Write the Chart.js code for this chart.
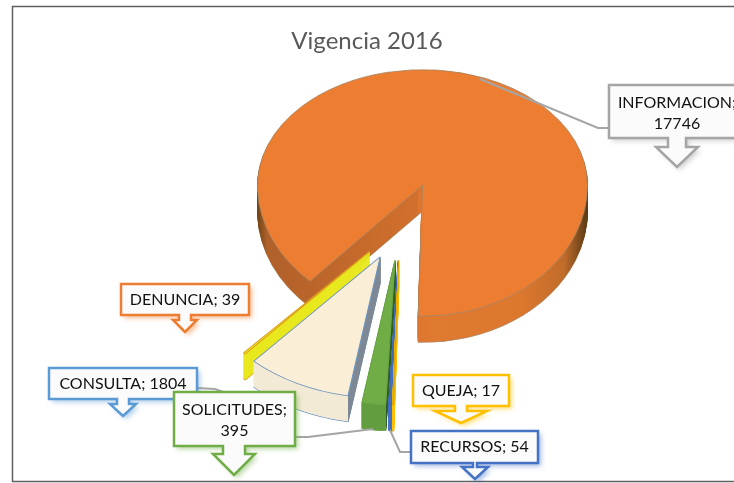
<!DOCTYPE html>
<html>
<head>
<meta charset="utf-8">
<style>
  html, body { margin: 0; padding: 0; background: #fff; overflow: hidden; }
  canvas { display: block; }
</style>
<script src="https://cdn.jsdelivr.net/npm/chart.js@4/dist/chart.umd.min.js"></script>
</head>
<body>
<canvas id="pieChart" width="734" height="483"></canvas>
<script>
const categories = ['QUEJA', 'RECURSOS', 'SOLICITUDES', 'CONSULTA', 'DENUNCIA', 'INFORMACION'];
const seriesValues = [17, 54, 395, 1804, 39, 17746];
const chartTitle = 'Vigencia 2016';

// slice styling, same order as categories
const topColors = ['#ffc000', '#4472c4', '#70ad47', '#fbeed6', '#e8e81e', '#ed7d31'];
const borderColors = ['#e0a800', '#3c66b0', '#6aa544', '#6e96c0', '#dd9a1c', '#a98662'];
const explode = [45, 45, 45, 45, 45, 59.5];
const radiusZoom = [1.17, 1.17, 1.17, 1.14, 1.12, 1];

const pieX = 400, pieY = 226.5, tilt = 0.75;
const wallDepth = 26;
// the big slice is egg shaped in the picture, far half flatter than the near half
const farTilt = 0.70, nearTilt = 0.795;

// callout boxes, keyed by category
const callouts = {
  INFORMACION: { color: '#a5a5a5', box: [609, 85, 136, 53], tip: [677, 167], neck: 9, head: 21, headY: 147, lines: 2, leader: [[480, 79], [598, 128], [609, 128]] },
  DENUNCIA: { color: '#ed7d31', box: [121, 284, 128, 31], tip: [185, 332], neck: 6, head: 12, headY: 320, lines: 1 },
  CONSULTA: { color: '#5b9bd5', box: [49, 368, 148, 31], tip: [123, 416], neck: 6, head: 13, headY: 404, lines: 1, leader: [[197, 388], [215, 389], [262, 406]] },
  SOLICITUDES: { color: '#70ad47', box: [174, 392, 121, 54], tip: [234, 475], neck: 11, head: 21, headY: 454, lines: 2, leader: [[295, 437], [308, 437], [373, 429]] },
  QUEJA: { color: '#ffc000', box: [413, 375, 96, 31], tip: [461, 423], neck: 6, head: 26, headY: 411, lines: 1 },
  RECURSOS: { color: '#4472c4', box: [411, 431, 127, 32], tip: [475, 479], neck: 2, head: 13, headY: 467, lines: 1, leader: [[411, 452], [400, 452], [390, 430]] }
};

function wallFill(ctx, arc, i) {
  const r = arc.outerRadius;
  const g = ctx.createLinearGradient(arc.x - r, 0, arc.x + r, 0);
  const frac = a => Math.min(1, Math.max(0, (1 + Math.cos(a)) / 2));
  if (categories[i] === 'INFORMACION') {
    const corner = frac(arc.endAngle);
    g.addColorStop(0, '#704516');
    g.addColorStop(0.03, '#b0602a');
    g.addColorStop(corner, '#d2702c');
    g.addColorStop(corner, '#dc7530');
    g.addColorStop(0.52, '#e07a30');
    g.addColorStop(0.8, '#dc772e');
    g.addColorStop(0.93, '#c06c2a');
    g.addColorStop(1, '#5a3a14');
  } else if (categories[i] === 'CONSULTA') {
    const corner = frac(arc.startAngle);
    g.addColorStop(0, '#f3ead6');
    g.addColorStop(corner, '#f3ead6');
    g.addColorStop(corner, '#7d8894');
    g.addColorStop(1, '#7d8894');
  } else if (categories[i] === 'SOLICITUDES') {
    const corner = frac(arc.startAngle);
    g.addColorStop(0, '#629d3f');
    g.addColorStop(corner, '#629d3f');
    g.addColorStop(corner, '#2f5c22');
    g.addColorStop(1, '#2f5c22');
  } else {
    return topColors[i];
  }
  return g;
}

// draws one library arc under the pie's tilt and explosion
function paintArc(ctx, arc, i, yShift, fill, borderColor, borderWidth) {
  const opts = arc.options;
  arc.options = Object.assign({}, opts, { backgroundColor: fill, borderColor: borderColor, borderWidth: borderWidth });
  const mid = (arc.startAngle + arc.endAngle) / 2;
  const d = explode[i], z = radiusZoom[i];
  const px = pieX + Math.cos(mid) * d;
  const py = pieY + Math.sin(mid) * d * tilt + yShift;
  const place = (k) => {
    ctx.translate(px, py);
    ctx.scale(z, k * z);
    ctx.translate(-arc.x, -arc.y);
  };
  if (categories[i] === 'INFORMACION') {
    const seam = Math.round(py);
    // near half first, far half on top of it with a pixel of overlap
    ctx.save();
    ctx.beginPath();
    ctx.rect(0, seam, 734, 483 - seam);
    ctx.clip();
    place(nearTilt);
    arc.draw(ctx);
    ctx.restore();
    ctx.save();
    ctx.beginPath();
    ctx.rect(0, 0, 734, seam + 1);
    ctx.clip();
    place(farTilt);
    arc.draw(ctx);
    ctx.restore();
  } else {
    ctx.save();
    place(tilt);
    arc.draw(ctx);
    ctx.restore();
  }
  arc.options = opts;
}

function drawLeader(ctx, c) {
  if (!c.leader) return;
  ctx.save();
  ctx.strokeStyle = '#a5a5a5';
  ctx.lineWidth = 2;
  ctx.beginPath();
  c.leader.forEach((p, n) => n ? ctx.lineTo(p[0], p[1]) : ctx.moveTo(p[0], p[1]));
  ctx.stroke();
  ctx.restore();
}

function drawCallout(ctx, name, value, c) {
  const [x, y, w, h] = c.box;
  const tx = c.tip[0], ty = c.tip[1], bottom = y + h;
  ctx.save();
  ctx.beginPath();
  ctx.moveTo(x, y);
  ctx.lineTo(x + w, y);
  ctx.lineTo(x + w, bottom);
  ctx.lineTo(tx + c.neck, bottom);
  ctx.lineTo(tx + c.neck, c.headY);
  ctx.lineTo(tx + c.head, c.headY);
  ctx.lineTo(tx, ty);
  ctx.lineTo(tx - c.head, c.headY);
  ctx.lineTo(tx - c.neck, c.headY);
  ctx.lineTo(tx - c.neck, bottom);
  ctx.lineTo(x, bottom);
  ctx.closePath();
  ctx.shadowColor = c.color + '80';
  ctx.shadowBlur = 5;
  ctx.shadowOffsetX = 3;
  ctx.shadowOffsetY = 3;
  ctx.fillStyle = '#fbfbfb';
  ctx.fill();
  ctx.shadowColor = 'transparent';
  ctx.strokeStyle = c.color;
  ctx.lineWidth = 2.5;
  ctx.lineJoin = 'miter';
  ctx.stroke();

  ctx.fillStyle = '#111';
  ctx.font = '16px Lato';
  ctx.textAlign = 'center';
  ctx.textBaseline = 'middle';
  const cx = x + w / 2, cy = y + h / 2;
  if (c.lines === 2) {
    ctx.fillText(name + ';', cx, cy - 9);
    ctx.fillText(String(value), cx, cy + 12);
  } else {
    ctx.fillText(name + '; ' + value, cx, cy);
  }
  ctx.restore();
}

const pie3d = {
  id: 'pie3d',
  beforeDatasetDraw() {
    return false;
  },
  afterDatasetsDraw(chart) {
    const ctx = chart.ctx;
    const arcs = chart.getDatasetMeta(0).data;

    // frame
    ctx.save();
    ctx.strokeStyle = '#5f5f5f';
    ctx.lineWidth = 1.5;
    ctx.strokeRect(12.5, 6.5, 760, 475);
    ctx.restore();

    // big slice first, then the exploded ones from left to right
    const order = [5, 4, 3, 2, 1, 0];
    order.forEach(i => {
      const arc = arcs[i];
      const fill = wallFill(ctx, arc, i);
      paintArc(ctx, arc, i, wallDepth, fill, borderColors[i], 1);
      for (let s = wallDepth - 1; s > 0; s--) paintArc(ctx, arc, i, s, fill, fill, 1);
      paintArc(ctx, arc, i, 0, topColors[i], borderColors[i], 1);
    });

    categories.forEach(name => drawLeader(ctx, callouts[name]));
    ['INFORMACION', 'DENUNCIA', 'CONSULTA', 'SOLICITUDES', 'QUEJA', 'RECURSOS'].forEach(name => {
      drawCallout(ctx, name, seriesValues[categories.indexOf(name)], callouts[name]);
    });
  }
};

new Chart(document.getElementById('pieChart'), {
  type: 'pie',
  data: {
    labels: categories,
    datasets: [{
      data: seriesValues,
      backgroundColor: topColors,
      borderColor: borderColors,
      borderWidth: 1,
      radius: 165
    }]
  },
  options: {
    responsive: false,
    animation: false,
    rotation: 181.5,
    plugins: {
      legend: { display: false },
      tooltip: { enabled: false },
      title: {
        display: true,
        text: chartTitle,
        color: '#595959',
        font: { family: 'Lato', size: 24, weight: 'normal' },
        padding: { top: 27, bottom: 10 }
      }
    }
  },
  plugins: [pie3d]
});
</script>
</body>
</html>
